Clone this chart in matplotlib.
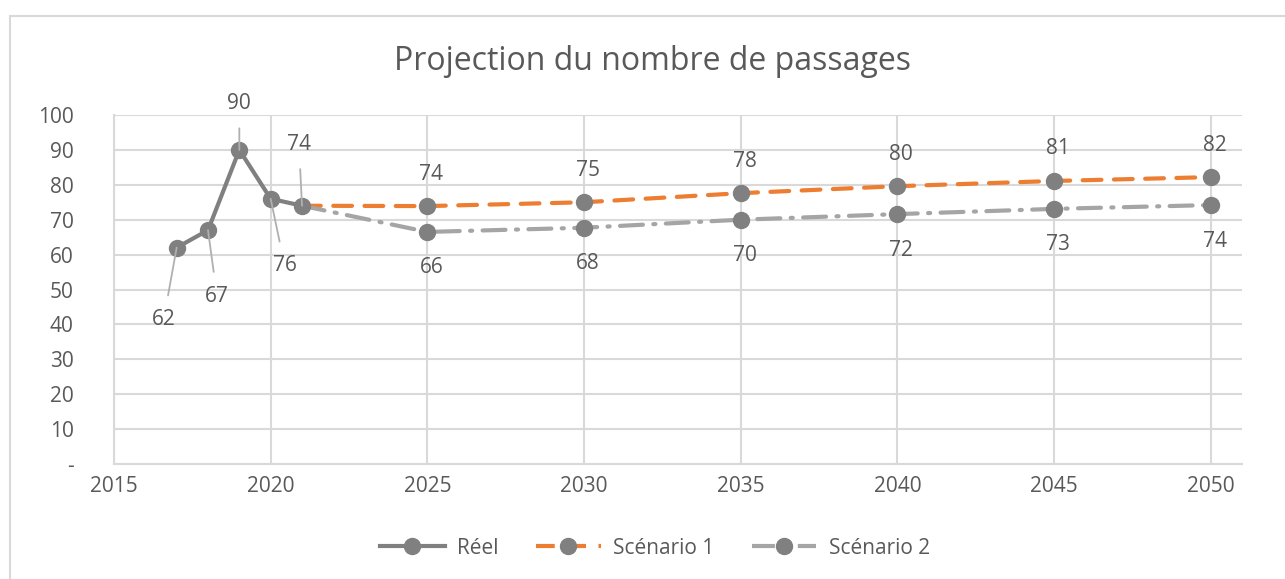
import matplotlib
matplotlib.use("Agg")
import matplotlib.pyplot as plt
import matplotlib.patches as patches
from matplotlib.lines import Line2D

GRAY = "#808080"
ORANGE = "#ED7D31"
LIGHT = "#A5A5A5"
TEXT = "#595959"
GRID = "#D9D9D9"

# --- data ---
years_reel = [2017, 2018, 2019, 2020, 2021]
reel = [62, 67, 90, 76, 74]

years_proj = [2021, 2025, 2030, 2035, 2040, 2045, 2050]
scenario1 = [74, 73.9, 75.0, 77.6, 79.6, 81.1, 82.2]
scenario2 = [74, 66.5, 67.7, 70.0, 71.6, 73.1, 74.2]

yticks = [0, 10, 20, 30, 40, 50, 60, 70, 80, 90, 100]
ytick_labels = ["-", "10", "20", "30", "40", "50", "60", "70", "80", "90", "100"]
xticks = [2015, 2020, 2025, 2030, 2035, 2040, 2045, 2050]

plt.rcParams["font.family"] = ["Open Sans", "DejaVu Sans"]

W, H = 1285, 579
fig = plt.figure(figsize=(W / 100, H / 100), dpi=100)
ax = fig.add_axes([114 / W, 1 - 464 / H, (1242 - 114) / W, (464 - 115) / H])

# chart border
fig.patches.append(patches.Rectangle((10 / W, -0.1), 1.2, 1 - 16 / H + 0.1,
                                     transform=fig.transFigure, fill=False,
                                     edgecolor=GRID, linewidth=1.5))

lw = 3.0
ms = 11.5
FS = 15
dash1 = (0, (4.5, 3))
dash2 = (0, (5.5, 2.5, 0.5, 2.5))

ax.plot(years_proj, scenario1, color=ORANGE, lw=lw, ls=dash1,
        marker="o", ms=ms, mfc=GRAY, mec=GRAY, markevery=list(range(1, 7)),
        zorder=3, dash_capstyle="round")
ax.plot(years_proj, scenario2, color=LIGHT, lw=lw, ls=dash2,
        marker="o", ms=ms, mfc=GRAY, mec=GRAY, markevery=list(range(1, 7)),
        zorder=3, dash_capstyle="round")
ax.plot(years_reel, reel, color=GRAY, lw=lw, marker="o", ms=ms,
        mfc=GRAY, mec=GRAY, zorder=4)

# labels for real data, with leader lines (offsets in px)
reel_offsets = [(-13, -72), (9, -66), (0, 46), (14, -67), (-3, 61)]
for x, y, (dx, dy) in zip(years_reel, reel, reel_offsets):
    ax.annotate(f"{y:.0f}", (x, y), xytext=(dx * 0.72, dy * 0.72),
                textcoords="offset points", ha="center", va="center",
                fontsize=FS, color=TEXT, zorder=5,
                arrowprops=dict(arrowstyle="-", color="#B0B0B0", lw=1.3,
                                shrinkA=8, shrinkB=0))

for x, y in zip(years_proj[1:], scenario1[1:]):
    ax.annotate(f"{y:.0f}", (x, y), xytext=(4 * 0.72, 32 * 0.72),
                textcoords="offset points", ha="center", va="center",
                fontsize=FS, color=TEXT)
for x, y in zip(years_proj[1:], scenario2[1:]):
    ax.annotate(f"{y:.0f}", (x, y), xytext=(4 * 0.72, -36 * 0.72),
                textcoords="offset points", ha="center", va="center",
                fontsize=FS, color=TEXT)

ax.set_xlim(2015, 2051)
ax.set_ylim(0, 100)
ax.set_xticks(xticks)
ax.set_yticks(yticks)
ax.set_yticklabels(ytick_labels)
ax.tick_params(axis="both", length=0, labelsize=FS, labelcolor=TEXT)
ax.tick_params(axis="y", pad=29)
ax.tick_params(axis="x", pad=9)
ax.grid(True, color=GRID, lw=1.5)
ax.set_axisbelow(True)
for s in ["top", "right"]:
    ax.spines[s].set_visible(False)
for s in ["left", "bottom"]:
    ax.spines[s].set_color(GRID)
    ax.spines[s].set_linewidth(1.5)

fig.text(653 / W, 1 - 62 / H, "Projection du nombre de passages",
         ha="center", va="center", fontsize=23, color=TEXT)

handles = [
    Line2D([], [], color=GRAY, lw=lw, marker="o", ms=ms, mfc=GRAY, mec=GRAY),
    Line2D([], [], color=ORANGE, lw=lw, ls=dash1, marker="o", ms=ms,
           mfc=GRAY, mec=GRAY),
    Line2D([], [], color=LIGHT, lw=lw, ls=dash2, marker="o",
           ms=ms, mfc=GRAY, mec=GRAY),
]
fig.legend(handles, ["Réel", "Scénario 1", "Scénario 2"], loc="center",
           bbox_to_anchor=(655 / W, 1 - 548 / H), ncol=3, frameon=False,
           fontsize=FS, labelcolor=TEXT, handlelength=3.1, columnspacing=1.8,
           handletextpad=0.6)

fig.savefig("out.png", dpi=100)
